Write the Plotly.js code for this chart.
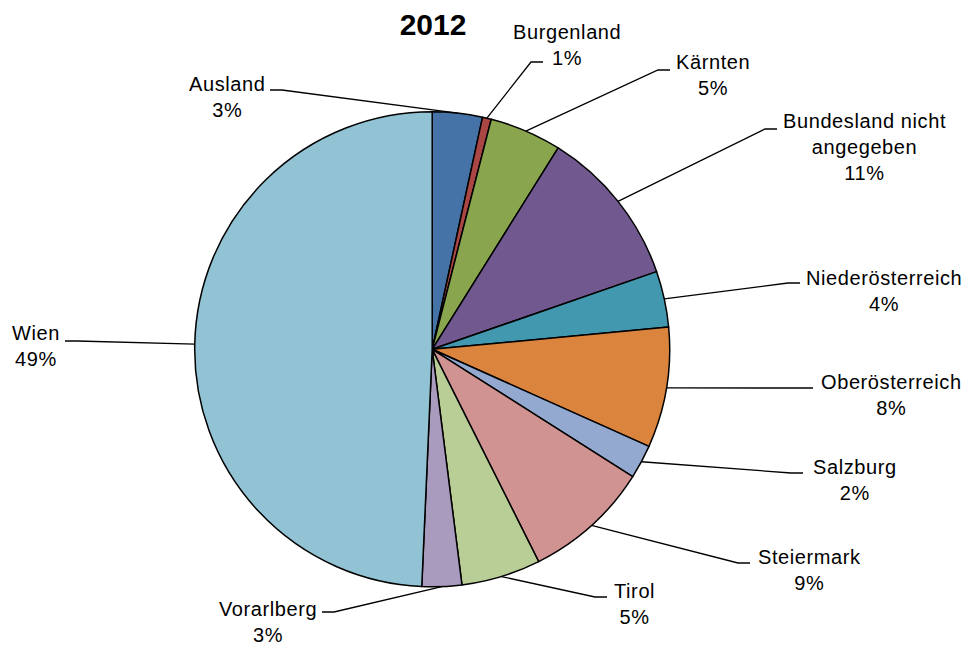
<!DOCTYPE html>
<html>
<head>
<meta charset="utf-8">
<script src="https://cdn.plot.ly/plotly-3.0.1.min.js"></script>
<style>
  html, body { margin: 0; padding: 0; background: #fff; }
  #chart { width: 970px; height: 647px; }
  .annotation-text { letter-spacing: 0.6px; }
</style>
</head>
<body>
<div id="chart"></div>
<script>
// ---- data ----
const categories = ['Ausland', 'Burgenland', 'Kärnten', 'Bundesland nicht angegeben', 'Niederösterreich',
  'Oberösterreich', 'Salzburg', 'Steiermark', 'Tirol', 'Vorarlberg', 'Wien'];
const values = [3.4, 0.6, 4.9, 10.8, 3.8, 8.2, 2.3, 8.6, 5.4, 2.7, 49.3];
const displayNames = ['Ausland', 'Burgenland', 'Kärnten', 'Bundesland nicht<br>angegeben', 'Niederösterreich',
  'Oberösterreich', 'Salzburg', 'Steiermark', 'Tirol', 'Vorarlberg', 'Wien'];
const colors = ['#4572A7', '#AA4643', '#89A54E', '#71588F', '#4198AF',
  '#DB843D', '#93A9CF', '#D19392', '#B9CD96', '#A99BBD', '#92C3D4'];
const chartTitle = '2012';

// ---- layout constants (pixels) ----
const W = 970, H = 647;
const CX = 432.2, CY = 349.3, R = 237.5;
// label block centers
const labelCenters = [[227, 97], [567, 45], [713, 75], [864, 147], [884, 291], [891, 395],
  [855, 480], [809, 570], [634, 604], [268, 622], [36, 346]];
// where the leader line meets the label
const lineEnds = [[270, 90], [543, 62], [670, 70], [777, 129], [800, 283], [813, 388],
  [803, 473], [750, 563], [607, 597], [322, 612], [65, 341]];

const px = x => x / W;
const py = y => 1 - y / H;
const FONT = 'Liberation Sans, Arial, sans-serif';

const total = values.reduce((a, b) => a + b, 0);
const shapes = [];
const annotations = [];
let cum = 0;
values.forEach((v, i) => {
  const theta = 2 * Math.PI * (cum + v / 2) / total;
  cum += v;
  const tx = CX + R * Math.sin(theta);
  const ty = CY - R * Math.cos(theta);
  const [ex, ey] = lineEnds[i];
  const dir = ex > CX ? -1 : 1;
  const elx = ex + dir * 12;
  shapes.push({
    type: 'path', xref: 'paper', yref: 'paper',
    path: `M ${px(tx)},${py(ty)} L ${px(elx)},${py(ey)} L ${px(ex)},${py(ey)}`,
    line: { color: '#000', width: 1.3 }
  });
  const pct = Math.round(v / total * 100) + '%';
  annotations.push({
    xref: 'paper', yref: 'paper',
    x: px(labelCenters[i][0]), y: py(labelCenters[i][1]),
    xanchor: 'center', yanchor: 'middle', align: 'center',
    text: displayNames[i] + '<br>' + pct,
    showarrow: false,
    font: { family: FONT, size: 20, color: '#000' }
  });
});

const trace = {
  type: 'pie',
  labels: categories,
  values: values,
  sort: false,
  direction: 'clockwise',
  rotation: 0,
  textinfo: 'none',
  hoverinfo: 'skip',
  showlegend: false,
  marker: { colors: colors, line: { color: '#000', width: 1.5 } },
  domain: { x: [px(CX - R), px(CX + R)], y: [py(CY + R), py(CY - R)] }
};

const layout = {
  width: W, height: H,
  margin: { l: 0, r: 0, t: 0, b: 0 },
  paper_bgcolor: '#fff',
  title: {
    text: '<b>' + chartTitle + '</b>',
    x: px(433), xanchor: 'center', xref: 'paper',
    y: py(24), yanchor: 'middle', yref: 'container',
    font: { family: FONT, size: 30, color: '#000' }
  },
  showlegend: false,
  shapes: shapes,
  annotations: annotations
};

Plotly.newPlot('chart', [trace], layout, { displayModeBar: false, staticPlot: true });
</script>
</body>
</html>
